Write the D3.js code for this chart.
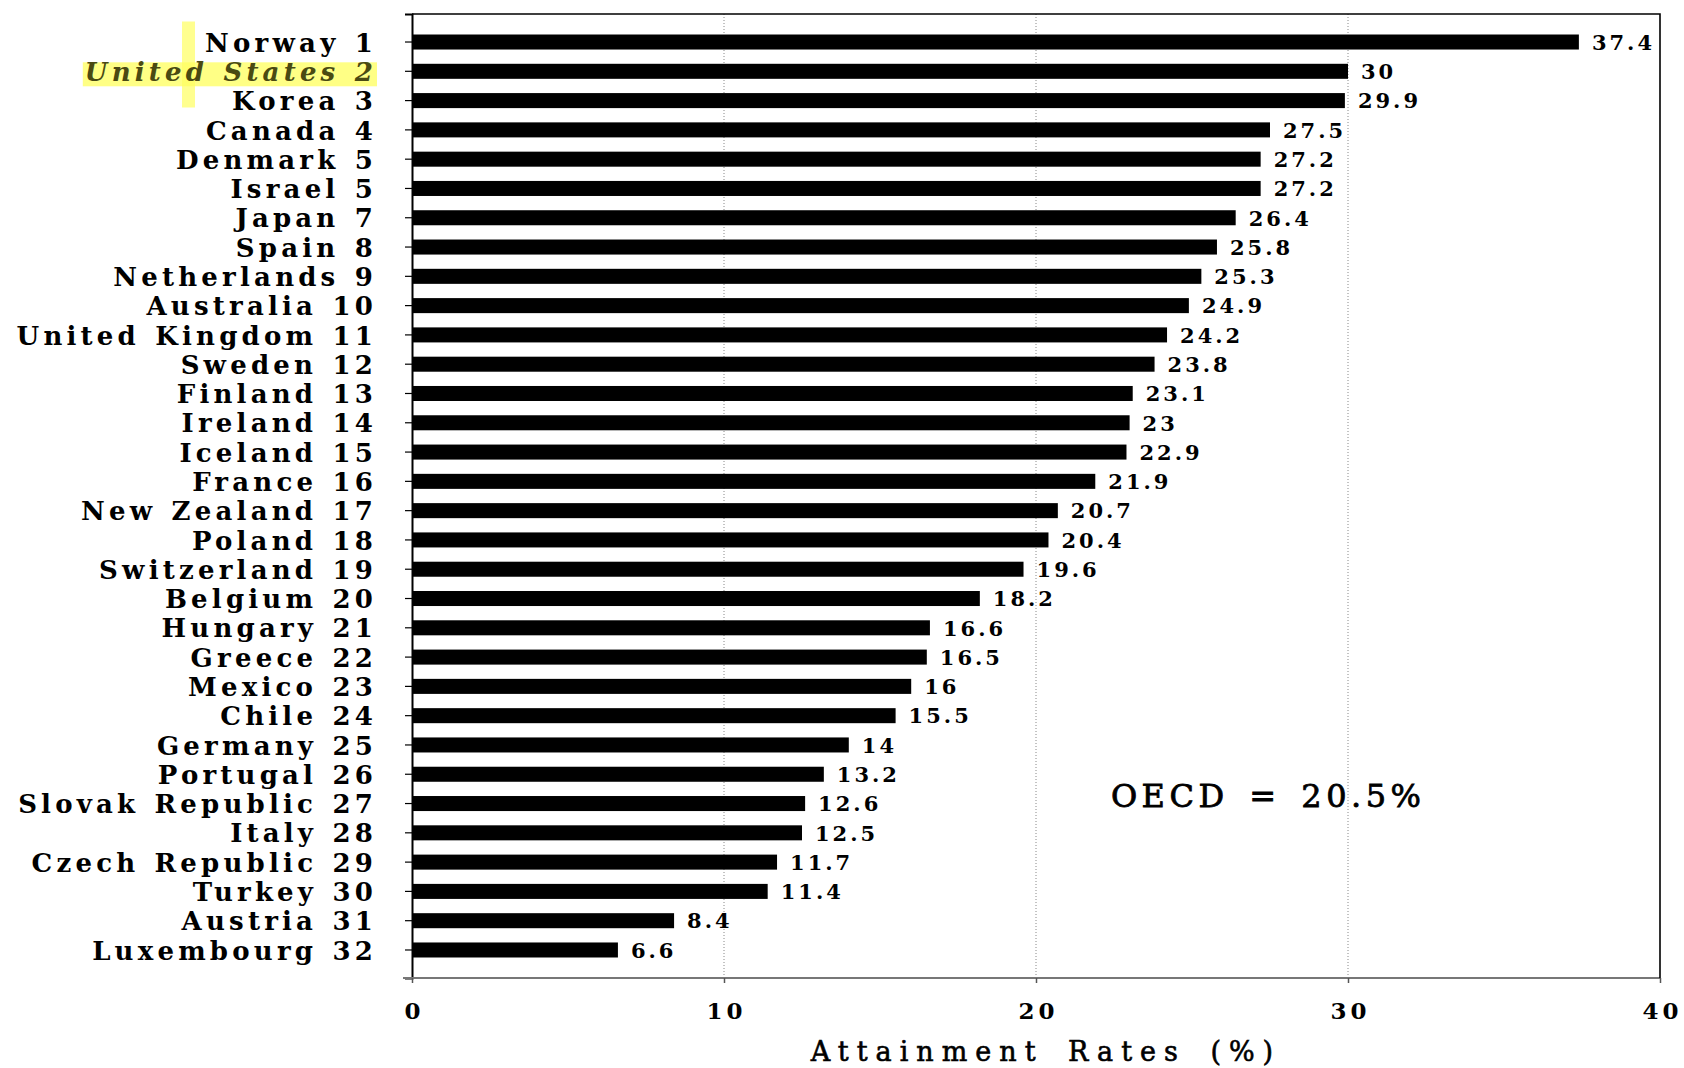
<!DOCTYPE html>
<html lang="en">
<head>
    <meta charset="UTF-8">
    <title>Attainment Rates</title>
    <script src="https://d3js.org/d3.v7.min.js"></script>
    <style>
        body { margin: 0; background: #fff; }
        text { font-family: "DejaVu Serif", serif; fill: #000; }
        .ylab text { font-size: 26px; font-weight: bold; letter-spacing: 4.2px; word-spacing: 2px; }
        .xlab text { font-size: 23px; font-weight: bold; letter-spacing: 4px; }
        .val { font-size: 21px; font-weight: bold; letter-spacing: 3px; }
        .grid line { stroke: #888; stroke-width: 1; stroke-dasharray: 1,2; }
    </style>
</head>
<body>
<script>
// Data
const countries = ["Norway", "United States", "Korea", "Canada", "Denmark", "Israel", "Japan", "Spain",
    "Netherlands", "Australia", "United Kingdom", "Sweden", "Finland", "Ireland", "Iceland", "France",
    "New Zealand", "Poland", "Switzerland", "Belgium", "Hungary", "Greece", "Mexico", "Chile",
    "Germany", "Portugal", "Slovak Republic", "Italy", "Czech Republic", "Turkey", "Austria", "Luxembourg"];
const ranks = [1, 2, 3, 4, 5, 5, 7, 8, 9, 10, 11, 12, 13, 14, 15, 16,
    17, 18, 19, 20, 21, 22, 23, 24, 25, 26, 27, 28, 29, 30, 31, 32];
const values = [37.4, 30, 29.9, 27.5, 27.2, 27.2, 26.4, 25.8, 25.3, 24.9, 24.2, 23.8, 23.1, 23, 22.9, 21.9,
    20.7, 20.4, 19.6, 18.2, 16.6, 16.5, 16, 15.5, 14, 13.2, 12.6, 12.5, 11.7, 11.4, 8.4, 6.6];
const xTicks = [0, 10, 20, 30, 40];
const highlighted = "United States";
const oecdText = "OECD = 20.5%";
const oecdValue = 22.4;      // where the note starts on the x scale
const oecdRow = "Slovak Republic";
const xTitle = "Attainment Rates (%)";

const W = 1684, H = 1068;
const margin = {top: 14, right: 24, bottom: 90, left: 412};
const width = W - margin.left - margin.right;
const height = H - margin.top - margin.bottom;

const svg = d3.select("body").append("svg")
    .attr("width", W)
    .attr("height", H);

const g = svg.append("g")
    .attr("transform", `translate(${margin.left},${margin.top})`);

const x = d3.scaleLinear().domain([0, 40]).range([0, width]);
const y = d3.scaleBand().domain(countries).range([0, height])
    .paddingInner(0.487).paddingOuter(0.7);

// dotted gridlines
g.append("g").attr("class", "grid")
    .selectAll("line")
    .data(xTicks.slice(1, -1))
    .join("line")
    .attr("x1", d => x(d)).attr("x2", d => x(d))
    .attr("y1", 0).attr("y2", height);

// highlight behind the United States label (sized after the label exists)
const hl = g.append("g");

// y axis
const rankOf = new Map(countries.map((c, i) => [c, ranks[i]]));
const yAxis = g.append("g").attr("class", "ylab")
    .call(d3.axisLeft(y).tickSize(7).tickPadding(34).tickFormat(c => `${c} ${rankOf.get(c)}`));
yAxis.select(".domain").attr("stroke", "#000").attr("stroke-width", 2);
yAxis.selectAll(".tick line").attr("stroke", "#000").attr("stroke-width", 1.2);
yAxis.selectAll(".tick text")
    .attr("dy", "0.37em")
    .attr("dx", 6)   // letter-spacing adds a trailing gap
    .filter(c => c === highlighted)
    .style("font-style", "italic")
    .style("fill", "#4a4a12");

// x axis
const xAxis = g.append("g").attr("class", "xlab")
    .attr("transform", `translate(0,${height})`)
    .call(d3.axisBottom(x).tickValues(xTicks).tickSize(5).tickPadding(20));
xAxis.select(".domain").attr("stroke", "#777").attr("stroke-width", 2)
    .attr("d", `M-9,0H${width}`);
xAxis.selectAll(".tick line").attr("stroke", "#555").attr("stroke-width", 1.5);
xAxis.selectAll(".tick text").attr("dx", 2);

// top and right frame
g.append("path")
    .attr("d", `M0,0H${width}V${height}`)
    .attr("fill", "none").attr("stroke", "#000").attr("stroke-width", 1.6);

// bars
g.selectAll(".bar")
    .data(countries)
    .join("rect")
    .attr("class", "bar")
    .attr("x", 0)
    .attr("y", c => y(c))
    .attr("width", (c, i) => x(values[i]))
    .attr("height", y.bandwidth())
    .attr("fill", "#000");

// value labels
g.selectAll(".val")
    .data(countries)
    .join("text")
    .attr("class", "val")
    .attr("x", (c, i) => x(values[i]) + 13)
    .attr("y", c => y(c) + y.bandwidth() / 2)
    .attr("dy", "0.37em")
    .text((c, i) => values[i]);

// OECD note
g.append("text")
    .attr("x", x(oecdValue))
    .attr("y", y(oecdRow) + y.bandwidth() / 2)
    .attr("dy", "0.1em")
    .style("font-size", "32px")
    .style("letter-spacing", "4.5px")
    .style("word-spacing", "6px")
    .style("stroke", "#000").style("stroke-width", 0.8)
    .text(oecdText);

// axis title
g.append("text")
    .attr("x", width / 2 + 10)
    .attr("y", height + 83)
    .attr("text-anchor", "middle")
    .style("font-size", "27px")
    .style("letter-spacing", "8px")
    .style("word-spacing", "8px")
    .style("stroke", "#000").style("stroke-width", 0.6)
    .text(xTitle);

// yellow highlight marks around the United States label
const usTick = yAxis.selectAll(".tick").filter(c => c === highlighted);
const bb = usTick.select("text").node().getBBox();
const ty = y(highlighted) + y.bandwidth() / 2;
hl.append("rect")
    .attr("x", bb.x - 2)
    .attr("y", ty - 9)
    .attr("width", bb.width + 2)
    .attr("height", 24)
    .attr("fill", "#ffff70").attr("opacity", 0.85);
hl.append("rect")
    .attr("x", -230)
    .attr("y", y(countries[0]) - 13)
    .attr("width", 13)
    .attr("height", 86)
    .attr("fill", "#ffff60").attr("opacity", 0.7);
</script>
</body>
</html>
